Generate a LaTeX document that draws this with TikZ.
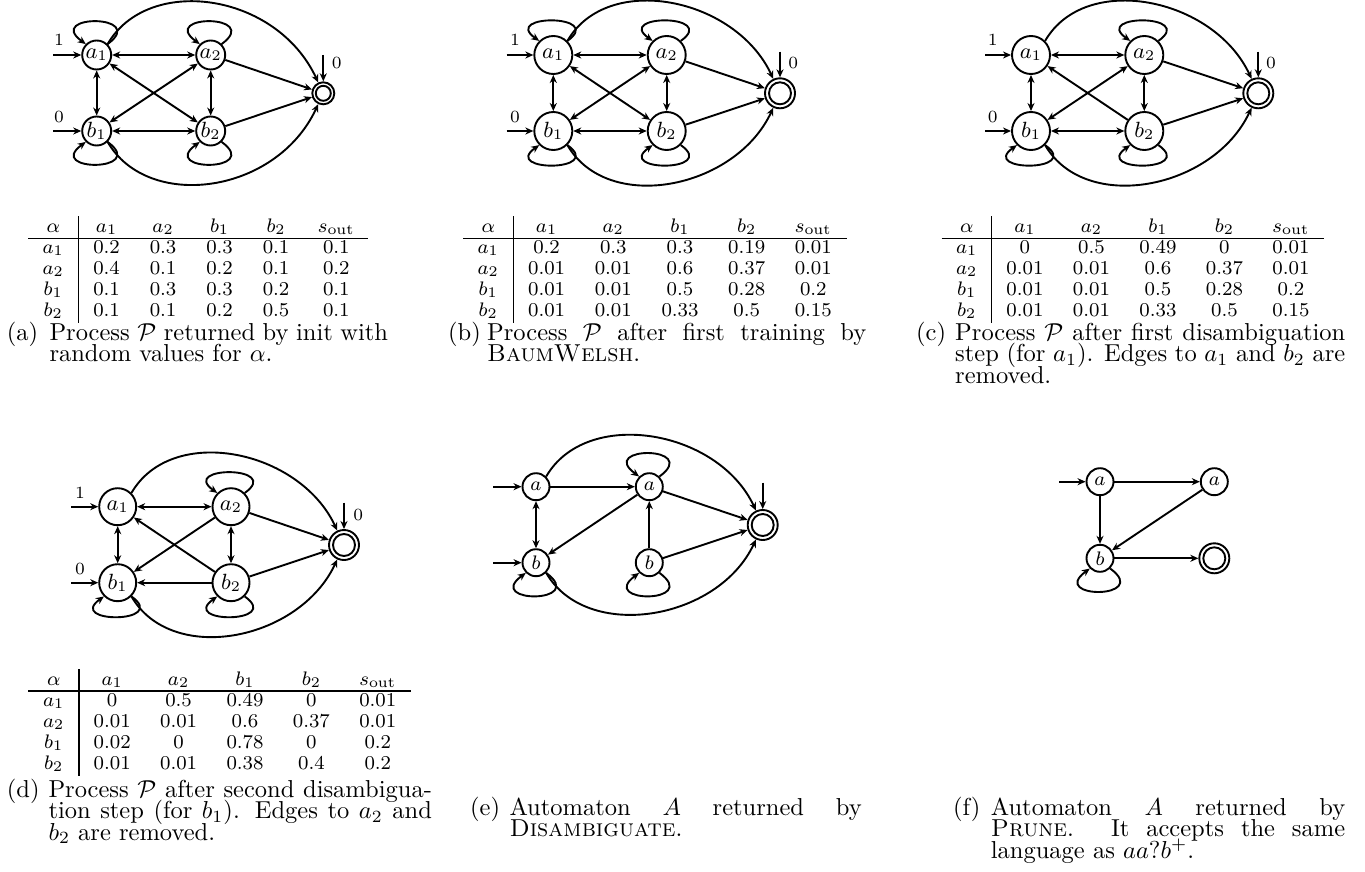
\documentclass[tikz,border=0pt]{standalone}
\usepackage{graphicx}
\usetikzlibrary{arrows.meta,calc}
\newcommand\Tx[1]{\scalebox{2.45}{#1}}
\tikzset{
  st/.style={circle, draw, line width=1.9pt, inner sep=0pt},
  sta/.style={st, minimum size=29pt},
  stb/.style={st, minimum size=38pt},
  std/.style={st, minimum size=37pt},
  ste/.style={st, minimum size=27pt},
  acca/.style={st, minimum size=22pt},
  accb/.style={st, minimum size=30pt},
  ring/.style={line width=1.9pt},
  tr/.style={line width=1.9pt, -{Stealth[length=8pt,width=7pt,inset=2.5pt]}},
  trr/.style={line width=1.9pt, {Stealth[length=8pt,width=7pt,inset=2.5pt]}-{Stealth[length=8pt,width=7pt,inset=2.5pt]}},
  lbl/.style={inner sep=0pt},
  cell/.style={anchor=base, inner sep=0pt},
  captx/.style={anchor=base west, inner sep=0pt},
  tabrule/.style={line width=1.1pt},
}
\newcommand\loopup[1]{\draw[tr] (#1.45) .. controls ($(#1)+(52,41)$) and ($(#1)+(-52,41)$) .. (#1.135);}
\newcommand\loopdn[1]{\draw[tr] (#1.-45) .. controls ($(#1)+(52,-41)$) and ($(#1)+(-52,-41)$) .. (#1.-135);}
\newcommand\toparc[4]{\draw[tr] (#1.45) .. controls ($(#1.45)+(60:#3)$) and ($(#2.115)+(115:#4)$) .. (#2.115);}
\newcommand\botarc[4]{\draw[tr] (#1.-45) .. controls ($(#1.-45)+(-60:#3)$) and ($(#2.-115)+(-115:#4)$) .. (#2.-115);}
\newcommand\trow[3]{\foreach \cx/\ct [count=\ci] in {#3} {\node[cell] (#1-\ci) at (\cx,-#2) {\Tx{\footnotesize\ct}};}}
\begin{document}
\begin{tikzpicture}[x=1pt,y=1pt]
\path[use as bounding box] (0,0) rectangle (1365,-872);

% ================= (a)
\node[sta] (aa1) at (96.7,-55) {\Tx{\small$a_1$}};
\node[sta] (aa2) at (210.7,-55) {\Tx{\small$a_2$}};
\node[sta] (ab1) at (96.7,-131) {\Tx{\small$b_1$}};
\node[sta] (ab2) at (210.7,-131) {\Tx{\small$b_2$}};
\node[acca] (aacc) at (323.3,-93.3) {};
\draw[ring] (aacc) circle[radius=7.5pt];
\coordinate (aia) at (53,-55); \coordinate (aib) at (53,-131); \coordinate (aif) at (323.3,-55);
\draw[tr] (aia) -- (aa1); \draw[tr] (aib) -- (ab1); \draw[tr] (aif) -- (aacc);
\node[lbl] (al1) at (59,-40) {\Tx{\scriptsize 1}};
\node[lbl] (al0) at (59,-117) {\Tx{\scriptsize 0}};
\node[lbl] (alf) at (336.7,-63) {\Tx{\scriptsize 0}};
\draw[trr] (aa1) -- (aa2); \draw[trr] (aa1) -- (ab1); \draw[trr] (aa2) -- (ab2);
\draw[trr] (ab1) -- (ab2); \draw[trr] (aa1) -- (ab2); \draw[trr] (aa2) -- (ab1);
\draw[tr] (aa2) -- (aacc); \draw[tr] (ab2) -- (aacc);
\loopup{aa1} \loopup{aa2} \loopdn{ab1} \loopdn{ab2}
\toparc{aa1}{aacc}{80}{100} \botarc{ab1}{aacc}{80}{100}

% ================= (b)
\node[stb] (ba1) at (553.3,-55) {\Tx{\small$a_1$}};
\node[stb] (ba2) at (666.7,-55) {\Tx{\small$a_2$}};
\node[stb] (bb1) at (553.3,-131) {\Tx{\small$b_1$}};
\node[stb] (bb2) at (666.7,-131) {\Tx{\small$b_2$}};
\node[accb] (bacc) at (780,-93.3) {};
\draw[ring] (bacc) circle[radius=11pt];
\coordinate (bia) at (506.7,-55); \coordinate (bib) at (506.7,-131); \coordinate (bif) at (780,-51.7);
\draw[tr] (bia) -- (ba1); \draw[tr] (bib) -- (bb1); \draw[tr] (bif) -- (bacc);
\node[lbl] (bl1) at (515,-40) {\Tx{\scriptsize 1}};
\node[lbl] (bl0) at (515,-117) {\Tx{\scriptsize 0}};
\node[lbl] (blf) at (793.3,-63) {\Tx{\scriptsize 0}};
\draw[trr] (ba1) -- (ba2); \draw[trr] (ba1) -- (bb1); \draw[trr] (ba2) -- (bb2);
\draw[trr] (bb1) -- (bb2); \draw[trr] (ba1) -- (bb2); \draw[trr] (ba2) -- (bb1);
\draw[tr] (ba2) -- (bacc); \draw[tr] (bb2) -- (bacc);
\loopup{ba1} \loopup{ba2} \loopdn{bb1} \loopdn{bb2}
\toparc{ba1}{bacc}{80}{90} \botarc{bb1}{bacc}{80}{90}

% ================= (c)
\node[stb] (ca1) at (1031,-55) {\Tx{\small$a_1$}};
\node[stb] (ca2) at (1144.3,-55) {\Tx{\small$a_2$}};
\node[stb] (cb1) at (1031,-131) {\Tx{\small$b_1$}};
\node[stb] (cb2) at (1144.3,-131) {\Tx{\small$b_2$}};
\node[accb] (cacc) at (1258.3,-93.3) {};
\draw[ring] (cacc) circle[radius=11pt];
\coordinate (cia) at (985,-55); \coordinate (cib) at (985,-131); \coordinate (cif) at (1258.3,-51.7);
\draw[tr] (cia) -- (ca1); \draw[tr] (cib) -- (cb1); \draw[tr] (cif) -- (cacc);
\node[lbl] (cl1) at (992.7,-40) {\Tx{\scriptsize 1}};
\node[lbl] (cl0) at (992.7,-117) {\Tx{\scriptsize 0}};
\node[lbl] (clf) at (1271,-63) {\Tx{\scriptsize 0}};
\draw[trr] (ca1) -- (ca2); \draw[trr] (ca1) -- (cb1); \draw[trr] (ca2) -- (cb2);
\draw[trr] (cb1) -- (cb2); \draw[tr] (cb2) -- (ca1); \draw[trr] (ca2) -- (cb1);
\draw[tr] (ca2) -- (cacc); \draw[tr] (cb2) -- (cacc);
\loopup{ca2} \loopdn{cb1} \loopdn{cb2}
\toparc{ca1}{cacc}{80}{90} \botarc{cb1}{cacc}{80}{90}

% ================= (d)
\node[std] (da1) at (117.7,-506.7) {\Tx{\small$a_1$}};
\node[std] (da2) at (231,-506.7) {\Tx{\small$a_2$}};
\node[std] (db1) at (117.7,-582.7) {\Tx{\small$b_1$}};
\node[std] (db2) at (231,-582.7) {\Tx{\small$b_2$}};
\node[accb] (dacc) at (344,-545) {};
\draw[ring] (dacc) circle[radius=11pt];
\coordinate (dia) at (71,-506.7); \coordinate (dib) at (71,-582.7); \coordinate (dif) at (344,-502.7);
\draw[tr] (dia) -- (da1); \draw[tr] (dib) -- (db1); \draw[tr] (dif) -- (dacc);
\node[lbl] (dl1) at (80,-493) {\Tx{\scriptsize 1}};
\node[lbl] (dl0) at (80,-569) {\Tx{\scriptsize 0}};
\node[lbl] (dlf) at (358.3,-515) {\Tx{\scriptsize 0}};
\draw[trr] (da1) -- (da2); \draw[trr] (da1) -- (db1); \draw[trr] (da2) -- (db2);
\draw[tr] (db2) -- (db1); \draw[tr] (db2) -- (da1); \draw[tr] (da2) -- (db1);
\draw[tr] (da2) -- (dacc); \draw[tr] (db2) -- (dacc);
\loopup{da2} \loopdn{db1} \loopdn{db2}
\toparc{da1}{dacc}{80}{90} \botarc{db1}{dacc}{80}{90}

% ================= (e)
\node[ste] (eaL) at (536,-486.7) {\Tx{\footnotesize$a$}};
\node[ste] (eaR) at (649.3,-486.7) {\Tx{\footnotesize$a$}};
\node[ste] (ebL) at (536,-562.7) {\Tx{\footnotesize$b$}};
\node[ste] (ebR) at (649.3,-562.7) {\Tx{\footnotesize$b$}};
\node[accb] (eacc) at (762.7,-525) {};
\draw[ring] (eacc) circle[radius=11pt];
\coordinate (eia) at (493.3,-486.7); \coordinate (eib) at (493.3,-562.7); \coordinate (eif) at (762.7,-482.7);
\draw[tr] (eia) -- (eaL); \draw[tr] (eib) -- (ebL); \draw[tr] (eif) -- (eacc);
\draw[tr] (eaL) -- (eaR); \draw[trr] (eaL) -- (ebL); \draw[tr] (eaR) -- (ebL); \draw[tr] (ebR) -- (eaR);
\draw[tr] (eaR) -- (eacc); \draw[tr] (ebR) -- (eacc);
\loopup{eaR} \loopdn{ebL} \loopdn{ebR}
\toparc{eaL}{eacc}{80}{90} \botarc{ebL}{eacc}{80}{90}

% ================= (f)
\node[ste] (faL) at (1100,-481.7) {\Tx{\footnotesize$a$}};
\node[ste] (faR) at (1214.3,-481.7) {\Tx{\footnotesize$a$}};
\node[ste] (fb) at (1100,-558.3) {\Tx{\footnotesize$b$}};
\node[accb] (facc) at (1214.3,-558.3) {};
\draw[ring] (facc) circle[radius=11pt];
\coordinate (fia) at (1059.3,-481.7);
\draw[tr] (fia) -- (faL);
\draw[tr] (faL) -- (faR); \draw[tr] (faL) -- (fb); \draw[tr] (faR) -- (fb); \draw[tr] (fb) -- (facc);
\loopdn{fb}

% ================= tables
% (a)
\trow{ta0}{232}{53.3/$\alpha$, 106.6/$a_1$, 163.1/$a_2$, 219.6/$b_1$, 276.1/$b_2$, 336.3/$s_{\mathrm{out}}$}
\trow{ta1}{253}{53.3/$a_1$, 106.6/0.2, 163.1/0.3, 219.6/0.3, 276.1/0.1, 336.3/0.1}
\trow{ta2}{274}{53.3/$a_2$, 106.6/0.4, 163.1/0.1, 219.6/0.2, 276.1/0.1, 336.3/0.2}
\trow{ta3}{295}{53.3/$b_1$, 106.6/0.1, 163.1/0.3, 219.6/0.3, 276.1/0.2, 336.3/0.1}
\trow{ta4}{316}{53.3/$b_2$, 106.6/0.1, 163.1/0.1, 219.6/0.2, 276.1/0.5, 336.3/0.1}
\draw[tabrule] (28.3,-238.3) -- (368.3,-238.3);
\draw[tabrule] (78.3,-216) -- (78.3,-323);
% (b)
\trow{tb0}{232}{488.3/$\alpha$, 546.6/$a_1$, 613.3/$a_2$, 680/$b_1$, 746.7/$b_2$, 813.3/$s_{\mathrm{out}}$}
\trow{tb1}{253}{488.3/$a_1$, 546.6/0.2, 613.3/0.3, 680/0.3, 746.7/0.19, 813.3/0.01}
\trow{tb2}{274}{488.3/$a_2$, 546.6/0.01, 613.3/0.01, 680/0.6, 746.7/0.37, 813.3/0.01}
\trow{tb3}{295}{488.3/$b_1$, 546.6/0.01, 613.3/0.01, 680/0.5, 746.7/0.28, 813.3/0.2}
\trow{tb4}{316}{488.3/$b_2$, 546.6/0.01, 613.3/0.01, 680/0.33, 746.7/0.5, 813.3/0.15}
\draw[tabrule] (463.3,-238.3) -- (846.7,-238.3);
\draw[tabrule] (513.3,-216) -- (513.3,-323);
% (c)
\trow{tc0}{232}{966.7/$\alpha$, 1024.9/$a_1$, 1091.4/$a_2$, 1157.9/$b_1$, 1224.4/$b_2$, 1290.9/$s_{\mathrm{out}}$}
\trow{tc1}{253}{966.7/$a_1$, 1024.9/0, 1091.4/0.5, 1157.9/0.49, 1224.4/0, 1290.9/0.01}
\trow{tc2}{274}{966.7/$a_2$, 1024.9/0.01, 1091.4/0.01, 1157.9/0.6, 1224.4/0.37, 1290.9/0.01}
\trow{tc3}{295}{966.7/$b_1$, 1024.9/0.01, 1091.4/0.01, 1157.9/0.5, 1224.4/0.28, 1290.9/0.2}
\trow{tc4}{316}{966.7/$b_2$, 1024.9/0.01, 1091.4/0.01, 1157.9/0.33, 1224.4/0.5, 1290.9/0.15}
\draw[tabrule] (941.7,-238.3) -- (1324.2,-238.3);
\draw[tabrule] (991.7,-216) -- (991.7,-323);
% (d)
\trow{td0}{685}{53.7/$\alpha$, 112.2/$a_1$, 178.6/$a_2$, 245/$b_1$, 311.4/$b_2$, 377.8/$s_{\mathrm{out}}$}
\trow{td1}{706}{53.7/$a_1$, 112.2/0, 178.6/0.5, 245/0.49, 311.4/0, 377.8/0.01}
\trow{td2}{727}{53.7/$a_2$, 112.2/0.01, 178.6/0.01, 245/0.6, 311.4/0.37, 377.8/0.01}
\trow{td3}{748}{53.7/$b_1$, 112.2/0.02, 178.6/0, 245/0.78, 311.4/0, 377.8/0.2}
\trow{td4}{769}{53.7/$b_2$, 112.2/0.01, 178.6/0.01, 245/0.38, 311.4/0.4, 377.8/0.2}
\draw[tabrule] (28.3,-691) -- (411,-691);
\draw[tabrule] (79,-669) -- (79,-776);

% ================= captions
\node[captx] (ca-l) at (6.7,-340) {\Tx{(a)}};
\node[captx] (ca-1) at (49.3,-340) {\Tx{\makebox[138.2pt][s]{Process $\mathcal{P}$ returned by init with}}};
\node[captx] (ca-2) at (49.3,-361.5) {\Tx{random values for $\alpha$.}};

\node[captx] (cb-l) at (448,-340) {\Tx{(b)}};
\node[captx] (cb-1) at (487,-340) {\Tx{\makebox[154.7pt][s]{Process $\mathcal{P}$ after first training by}}};
\node[captx] (cb-2) at (487,-361.5) {\Tx{\textsc{BaumWelsh}.}};

\node[captx] (cc-l) at (916,-340) {\Tx{(c)}};
\node[captx] (cc-1) at (955,-340) {\Tx{\makebox[159.2pt][s]{Process $\mathcal{P}$ after first disambiguation}}};
\node[captx] (cc-2) at (955,-361.5) {\Tx{\makebox[159.2pt][s]{step (for $a_1$). Edges to $a_1$ and $b_2$ are}}};
\node[captx] (cc-3) at (955,-383) {\Tx{removed.}};

\node[captx] (cd-l) at (6.7,-797) {\Tx{(d)}};
\node[captx] (cd-1) at (48.3,-797) {\Tx{\makebox[156.5pt][s]{Process $\mathcal{P}$ after second disambigua-}}};
\node[captx] (cd-2) at (48.3,-818.5) {\Tx{\makebox[156.5pt][s]{tion step (for $b_1$). Edges to $a_2$ and}}};
\node[captx] (cd-3) at (48.3,-840) {\Tx{$b_2$ are removed.}};

\node[captx] (ce-l) at (470,-815) {\Tx{(e)}};
\node[captx] (ce-1) at (509.3,-815) {\Tx{\makebox[143.8pt][s]{Automaton $A$ returned by}}};
\node[captx] (ce-2) at (509.3,-836.5) {\Tx{\textsc{Disambiguate}.}};

\node[captx] (cf-l) at (953,-815) {\Tx{(f)}};
\node[captx] (cf-1) at (990.7,-815) {\Tx{\makebox[144.6pt][s]{Automaton $A$ returned by}}};
\node[captx] (cf-2) at (990.7,-836.5) {\Tx{\makebox[144.6pt][s]{\textsc{Prune}. It accepts the same}}};
\node[captx] (cf-3) at (990.7,-858) {\Tx{language as $aa?b^+$.}};
\end{tikzpicture}
\end{document}
